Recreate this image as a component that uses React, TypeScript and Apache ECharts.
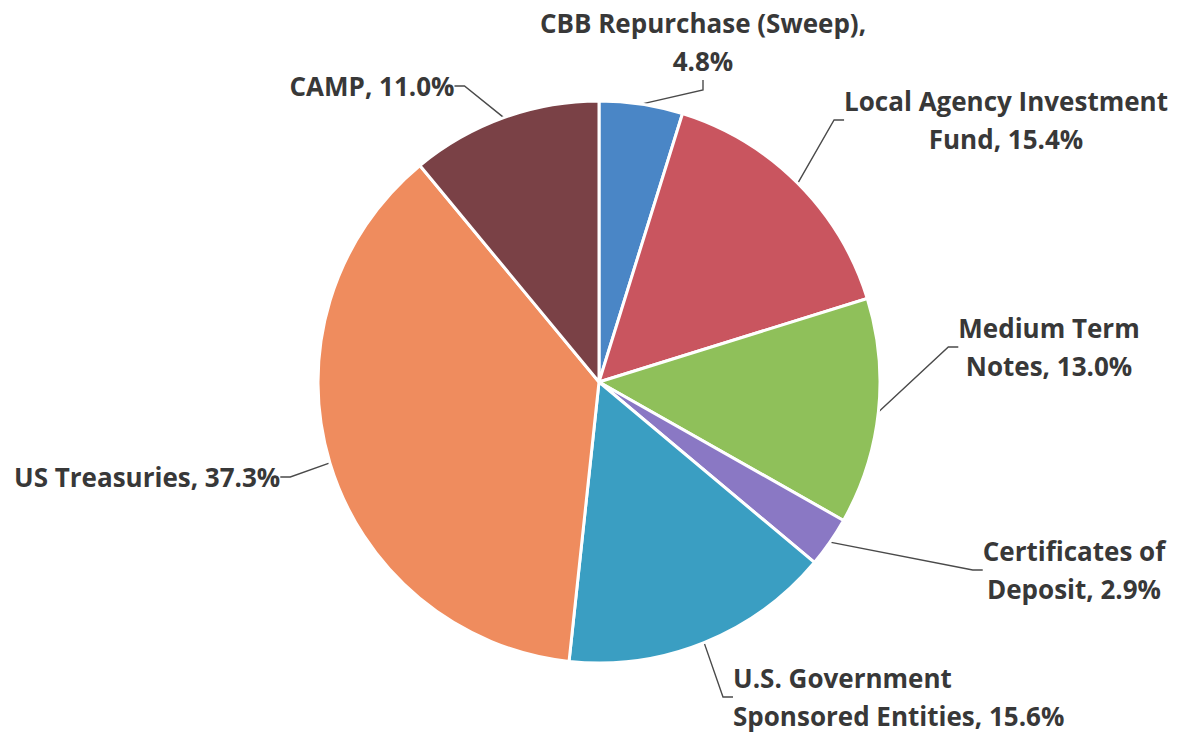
import React, { useEffect, useRef } from "react";
import * as echarts from "echarts";

const categories = [
  "CBB Repurchase (Sweep)",
  "Local Agency Investment Fund",
  "Medium Term Notes",
  "Certificates of Deposit",
  "U.S. Government Sponsored Entities",
  "US Treasuries",
  "CAMP",
];
const values = [4.8, 15.4, 13.0, 2.9, 15.6, 37.3, 11.0];
const colors = ["#4a86c6", "#c9555f", "#8fc05a", "#8a78c4", "#3a9ec2", "#ef8c5e", "#7a4146"];
const labelLines = [
  ["CBB Repurchase (Sweep),", "4.8%"],
  ["Local Agency Investment", "Fund, 15.4%"],
  ["Medium Term", "Notes, 13.0%"],
  ["Certificates of", "Deposit, 2.9%"],
  ["U.S. Government", "Sponsored Entities, 15.6%"],
  ["US Treasuries, 37.3%"],
  ["CAMP, 11.0%"],
];
// label anchor positions (layout only)
const labelPos: { x: number; y: number; align: string }[] = [
  { x: 703, y: 42, align: "center" },
  { x: 1006, y: 120, align: "center" },
  { x: 1049, y: 347, align: "center" },
  { x: 1074, y: 570, align: "center" },
  { x: 733, y: 697, align: "left" },
  { x: 14, y: 477, align: "left" },
  { x: 372, y: 86, align: "center" },
];

export default function App() {
  const ref = useRef<HTMLDivElement>(null);
  useEffect(() => {
    if (!ref.current) return;
    const chart = echarts.init(ref.current, null, { renderer: "svg" });
    chart.setOption({
      animation: false,
      backgroundColor: "#ffffff",
      series: [
        {
          type: "pie",
          center: [599, 382],
          radius: 281,
          startAngle: 90,
          clockwise: true,
          data: categories.map((c, i) => ({
            name: c,
            value: values[i],
            itemStyle: { color: colors[i] },
          })),
          itemStyle: { borderColor: "#ffffff", borderWidth: 3 },
          label: {
            show: true,
            position: "outside",
            formatter: (p: any) => labelLines[p.dataIndex].join("\n"),
            fontFamily: "Open Sans",
            fontWeight: "bold",
            fontSize: 26,
            lineHeight: 38,
            color: "#383838",
          },
          labelLine: {
            show: true,
            length: 15,
            length2: 10,
            lineStyle: { color: "#4a4a4a", width: 1.4 },
          },
          labelLayout: (params: any) => {
            const p = labelPos[params.dataIndex];
            return {
              x: p.x,
              y: p.y,
              align: p.align,
              verticalAlign: "middle",
            };
          },
          emphasis: { disabled: true },
        },
      ],
    });
    return () => chart.dispose();
  }, []);
  return (
    <div
      ref={ref}
      style={{ position: "absolute", left: 0, top: 0, width: 1186, height: 739 }}
    />
  );
}
